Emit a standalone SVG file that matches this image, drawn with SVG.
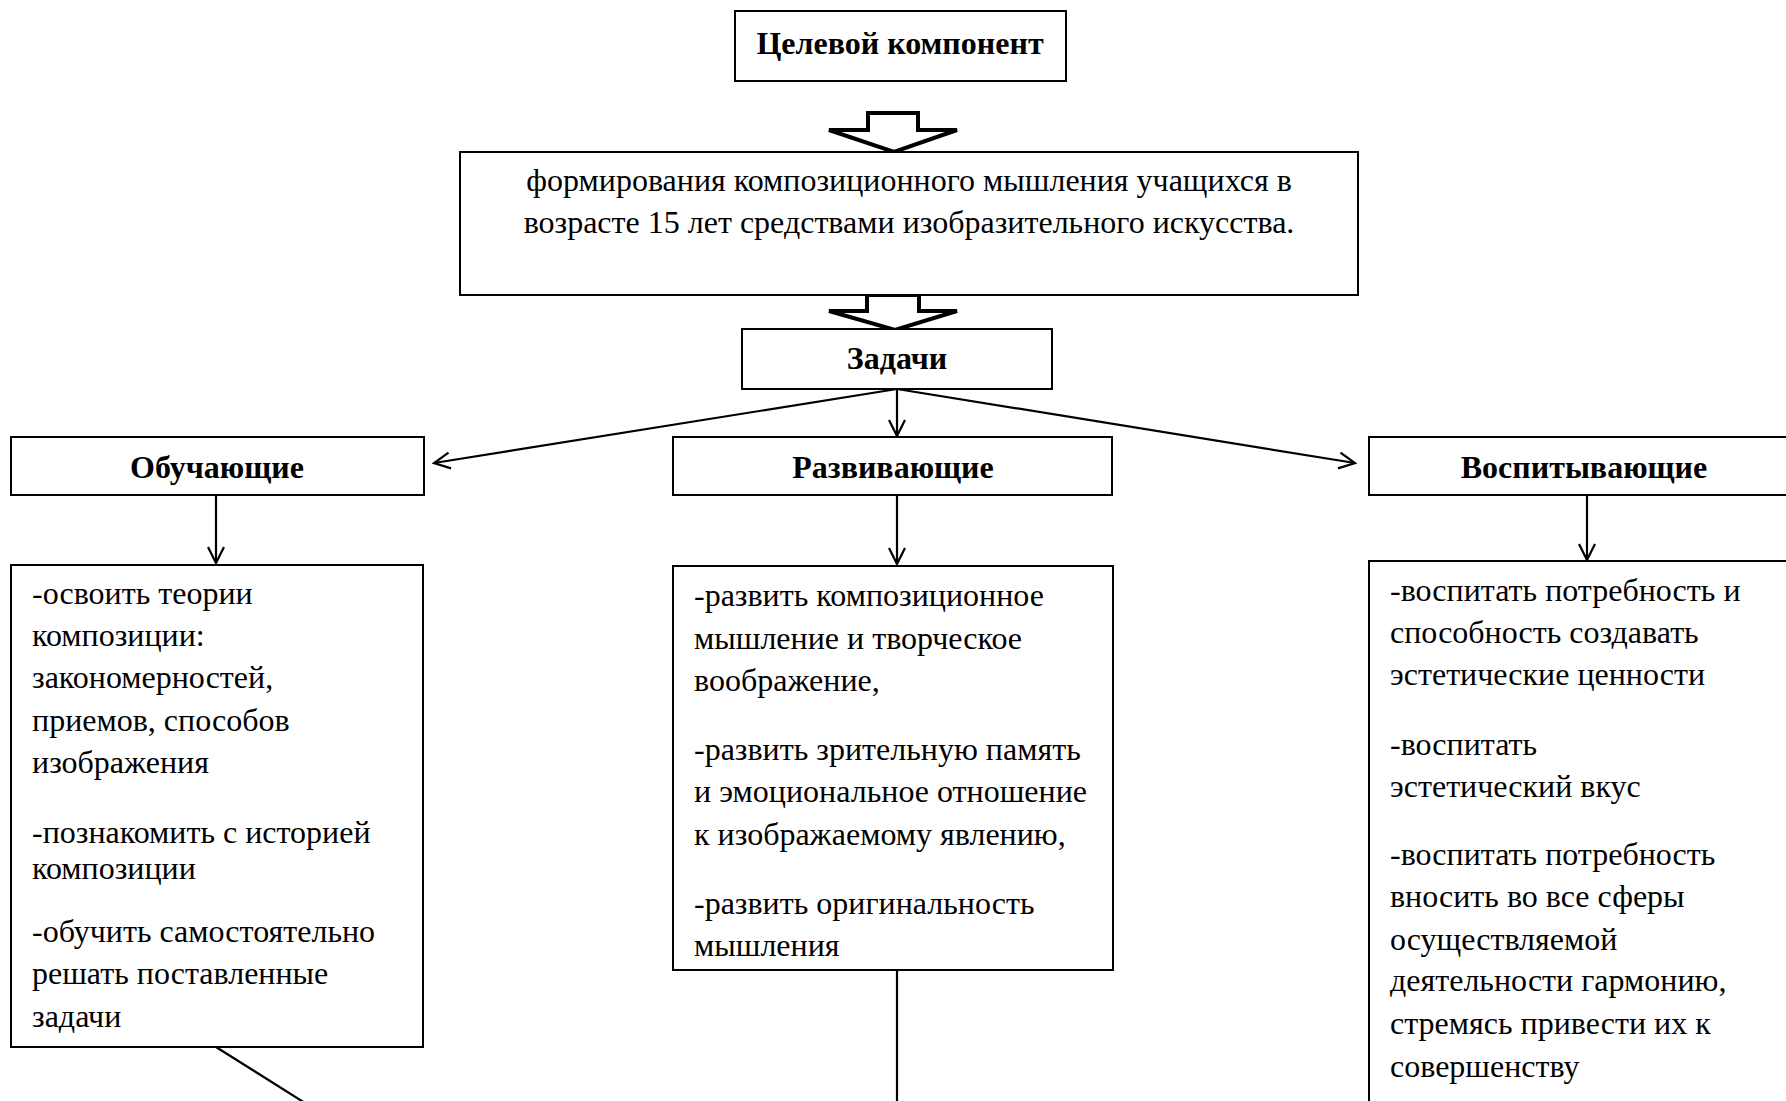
<svg xmlns="http://www.w3.org/2000/svg" width="1786" height="1101" viewBox="0 0 1786 1101">
<style>
.box{fill:#fff;stroke:#000;stroke-width:2}
.h{font-family:"Liberation Serif","Times New Roman",serif;font-weight:bold;font-size:32px;fill:#000;text-anchor:middle}
.t{font-family:"Liberation Serif","Times New Roman",serif;font-size:32px;fill:#000}
.c{text-anchor:middle}
.ln{fill:none;stroke:#000;stroke-width:2.2}
.big{fill:#fff;stroke:#000;stroke-width:4;stroke-linejoin:miter}
</style>
<defs>
<marker id="ah" viewBox="0 0 20 20" refX="18" refY="10" markerWidth="20" markerHeight="20" markerUnits="userSpaceOnUse" orient="auto">
<path d="M2,2 L18,10 L2,18" fill="none" stroke="#000" stroke-width="2.2"/>
</marker>
</defs>
<rect width="1786" height="1101" fill="#fff"/>
<g id="connectors">
<polygon class="big" points="868,113 918,113 918,130 957,130 894,152 829,130 868,130"/>
<polygon class="big" points="867,295 919,295 919,311 957,311 895,330 829,311 867,311"/>
<line class="ln" x1="897" y1="389" x2="434" y2="463" marker-end="url(#ah)"/>
<line class="ln" x1="897" y1="389" x2="897" y2="436" marker-end="url(#ah)"/>
<line class="ln" x1="897" y1="389" x2="1355" y2="463" marker-end="url(#ah)"/>
<line class="ln" x1="216" y1="496" x2="216" y2="563" marker-end="url(#ah)"/>
<line class="ln" x1="897" y1="496" x2="897" y2="564" marker-end="url(#ah)"/>
<line class="ln" x1="1587" y1="496" x2="1587" y2="560" marker-end="url(#ah)"/>
<line class="ln" x1="216" y1="1047" x2="305" y2="1103"/>
<line class="ln" x1="897" y1="970" x2="897" y2="1103"/>
</g>
<g id="goal">
<rect class="box" x="735" y="11" width="331" height="70"/>
<text class="h" x="900" y="54">Целевой компонент</text>
</g>
<g id="aim">
<rect class="box" x="460" y="152" width="898" height="143"/>
<text class="t c" x="909" y="191">формирования композиционного мышления учащихся в</text>
<text class="t c" x="909" y="233">возрасте 15 лет средствами изобразительного искусства.</text>
</g>
<g id="tasks">
<rect class="box" x="742" y="329" width="310" height="60"/>
<text class="h" x="897" y="369">Задачи</text>
</g>
<g id="teaching">
<rect class="box" x="11" y="437" width="413" height="58"/>
<text class="h" x="217" y="478">Обучающие</text>
</g>
<g id="developing">
<rect class="box" x="673" y="437" width="439" height="58"/>
<text class="h" x="893" y="478">Развивающие</text>
</g>
<g id="educating">
<rect class="box" x="1369" y="437" width="440" height="58"/>
<text class="h" x="1584" y="478">Воспитывающие</text>
</g>
<g id="teaching-list">
<rect class="box" x="11" y="565" width="412" height="482"/>
<text class="t" x="32" y="604">-освоить теории</text>
<text class="t" x="32" y="646">композиции:</text>
<text class="t" x="32" y="688">закономерностей,</text>
<text class="t" x="32" y="731">приемов, способов</text>
<text class="t" x="32" y="773">изображения</text>
<text class="t" x="32" y="843">-познакомить с историей</text>
<text class="t" x="32" y="879">композиции</text>
<text class="t" x="32" y="942">-обучить самостоятельно</text>
<text class="t" x="32" y="984">решать поставленные</text>
<text class="t" x="32" y="1027">задачи</text>
</g>
<g id="developing-list">
<rect class="box" x="673" y="566" width="440" height="404"/>
<text class="t" x="694" y="606">-развить композиционное</text>
<text class="t" x="694" y="649">мышление и творческое</text>
<text class="t" x="694" y="691">воображение,</text>
<text class="t" x="694" y="760">-развить зрительную память</text>
<text class="t" x="694" y="802">и эмоциональное отношение</text>
<text class="t" x="694" y="845">к изображаемому явлению,</text>
<text class="t" x="694" y="914">-развить оригинальность</text>
<text class="t" x="694" y="956">мышления</text>
</g>
<g id="educating-list">
<rect class="box" x="1369" y="561" width="440" height="560"/>
<text class="t" x="1390" y="601">-воспитать потребность и</text>
<text class="t" x="1390" y="643">способность создавать</text>
<text class="t" x="1390" y="685">эстетические ценности</text>
<text class="t" x="1390" y="755">-воспитать</text>
<text class="t" x="1390" y="797">эстетический вкус</text>
<text class="t" x="1390" y="865">-воспитать потребность</text>
<text class="t" x="1390" y="907">вносить во все сферы</text>
<text class="t" x="1390" y="950">осуществляемой</text>
<text class="t" x="1390" y="991">деятельности гармонию,</text>
<text class="t" x="1390" y="1034">стремясь привести их к</text>
<text class="t" x="1390" y="1077">совершенству</text>
</g>
</svg>
